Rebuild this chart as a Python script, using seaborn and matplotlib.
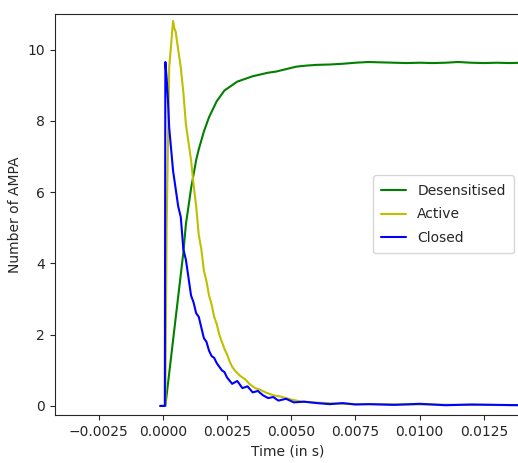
import pandas as pd
import matplotlib
matplotlib.use("Agg")
import matplotlib.pyplot as plt
import seaborn as sns

# Desensitised AMPA receptors
t_des = [-0.0001, 0.0001, 0.0008, 0.0009, 0.001, 0.0011, 0.0012, 0.0013, 0.0014, 0.0015,
         0.0016, 0.0017, 0.0018, 0.0019, 0.002, 0.0021, 0.0022, 0.0023, 0.0024, 0.0025,
         0.0027, 0.0029, 0.0031, 0.0033, 0.0035, 0.0038, 0.0041, 0.0044, 0.0048, 0.0052,
         0.0056, 0.006, 0.0065, 0.007, 0.0075, 0.008, 0.0085, 0.009, 0.0095, 0.01,
         0.0105, 0.011, 0.0115, 0.012, 0.0125, 0.013, 0.0135, 0.014]
n_des = [0, 0, 4.3, 5.1, 5.6, 6.1, 6.5, 6.9, 7.2, 7.45,
         7.7, 7.9, 8.1, 8.25, 8.4, 8.55, 8.65, 8.75, 8.85, 8.9,
         9.0, 9.1, 9.15, 9.2, 9.25, 9.3, 9.35, 9.38, 9.45, 9.52,
         9.55, 9.57, 9.58, 9.6, 9.63, 9.65, 9.64, 9.63, 9.62, 9.63,
         9.62, 9.63, 9.65, 9.63, 9.62, 9.63, 9.62, 9.63]

# Active AMPA receptors
t_act = [-0.0001, 0.0001, 0.00015, 0.00025, 0.0004, 0.00045, 0.0005, 0.0006, 0.0007, 0.0008,
         0.0009, 0.001, 0.0011, 0.0012, 0.0013, 0.0014, 0.0015, 0.0016, 0.0017, 0.0018,
         0.0019, 0.002, 0.0021, 0.0022, 0.0023, 0.0024, 0.0025, 0.0026, 0.0027, 0.0028,
         0.003, 0.0032, 0.0034, 0.0036, 0.0038, 0.004, 0.0043, 0.0046, 0.005, 0.0054,
         0.0058, 0.0064, 0.007, 0.0077, 0.0085, 0.0095, 0.0105, 0.0115, 0.0125, 0.0135, 0.014]
n_act = [0, 0, 5.0, 9.5, 10.8, 10.6, 10.5, 10.0, 9.5, 8.8,
         7.9, 7.4, 6.9, 6.2, 5.6, 4.8, 4.4, 3.8, 3.5, 3.1,
         2.85, 2.5, 2.3, 2.0, 1.8, 1.6, 1.45, 1.25, 1.1, 1.0,
         0.85, 0.75, 0.6, 0.5, 0.45, 0.38, 0.3, 0.26, 0.18, 0.12,
         0.1, 0.08, 0.06, 0.05, 0.05, 0.04, 0.04, 0.03, 0.03, 0.02, 0.02]

# Closed AMPA receptors
t_clo = [-0.0001, 0.00008, 0.0001, 0.00015, 0.0002, 0.00025, 0.0003, 0.00035, 0.0004, 0.0005,
         0.0006, 0.0007, 0.0008, 0.0009, 0.001, 0.0011, 0.0012, 0.0013, 0.0014, 0.0015,
         0.0016, 0.0017, 0.0018, 0.0019, 0.002, 0.0021, 0.0022, 0.0023, 0.0024, 0.0025,
         0.0027, 0.0029, 0.0031, 0.0033, 0.0035, 0.0037, 0.0039, 0.0041, 0.0043, 0.0045,
         0.0048, 0.0051, 0.0055, 0.006, 0.0065, 0.007, 0.0075, 0.008, 0.009, 0.01,
         0.011, 0.012, 0.013, 0.014]
n_clo = [0, 0, 9.65, 9.2, 8.6, 7.8, 7.4, 7.0, 6.6, 6.1,
         5.6, 5.3, 4.4, 4.1, 3.6, 3.1, 2.9, 2.6, 2.5, 2.2,
         1.9, 1.8, 1.55, 1.4, 1.35, 1.2, 1.1, 1.0, 0.95, 0.8,
         0.62, 0.7, 0.5, 0.55, 0.38, 0.42, 0.3, 0.22, 0.25, 0.15,
         0.2, 0.1, 0.12, 0.08, 0.05, 0.08, 0.04, 0.05, 0.03, 0.06,
         0.02, 0.04, 0.03, 0.02]

df = pd.concat([
    pd.DataFrame({'t': t_des, 'n': n_des, 'state': 'Desensitised'}),
    pd.DataFrame({'t': t_act, 'n': n_act, 'state': 'Active'}),
    pd.DataFrame({'t': t_clo, 'n': n_clo, 'state': 'Closed'}),
], ignore_index=True)

sns.set_style('ticks')

fig = plt.figure(figsize=(5.18, 4.63), dpi=100)
ax = fig.add_axes([0.106, 0.104, 0.9, 0.866])
sns.lineplot(data=df, x='t', y='n', hue='state', sort=False, estimator=None,
             palette={'Desensitised': 'g', 'Active': 'y', 'Closed': 'b'},
             linewidth=1.5, ax=ax)

ax.set_xlim(-0.0042, 0.01395)
ax.set_ylim(-0.25, 11.0)
ax.set_xticks([-0.0025, 0.0, 0.0025, 0.005, 0.0075, 0.01, 0.0125])
ax.set_xlabel('Time (in s)')
ax.set_ylabel('Number of AMPA')
ax.legend(loc='center right', title=None, labelspacing=0.7, handlelength=1.8,
          borderpad=0.6)

fig.savefig('out.png', dpi=100)
